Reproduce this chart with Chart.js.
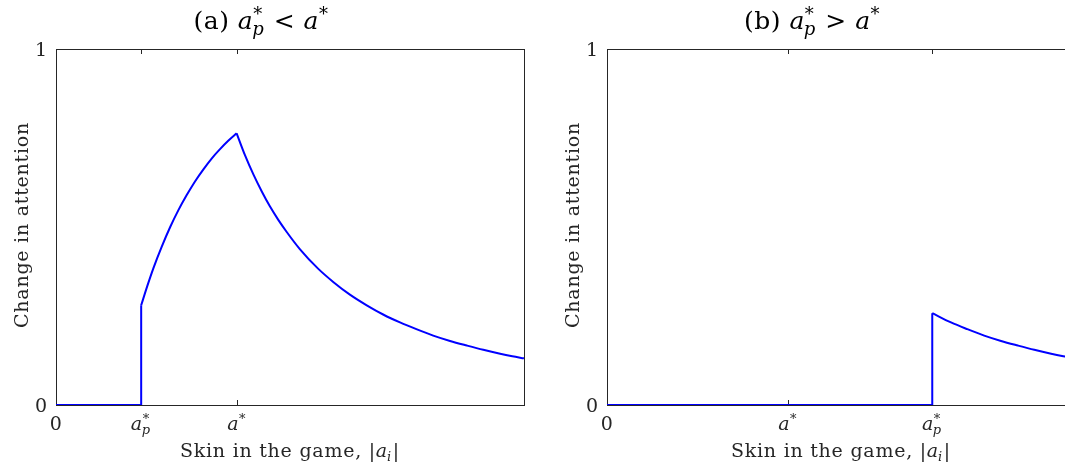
<!DOCTYPE html>
<html>
<head>
<meta charset="utf-8">
<script src="https://cdn.jsdelivr.net/npm/chart.js@4.4.0/dist/chart.umd.min.js"></script>
<style>
html, body { margin:0; padding:0; background:#fff; overflow:hidden; width:1065px; height:474px; }
.panel { position:absolute; top:0; width:540px; height:474px; }
</style>
</head>
<body>
<div class="panel" style="left:0"><canvas id="chartA" width="540" height="474"></canvas></div>
<div class="panel" style="left:551px"><canvas id="chartB" width="540" height="474"></canvas></div>
<script>
// x as a fraction of the skin-in-the-game range, y = change in attention
const aStar = 0.386;
const apStarA = 0.182;
const apStarB = 0.695;

// panel (a): a_p* < a*
const stepA_x  = [0, 0.182, 0.182];
const stepA_y  = [0, 0, 0.280];
const riseA_x  = [0.182, 0.195, 0.208, 0.226, 0.244, 0.261, 0.279, 0.297, 0.315, 0.333, 0.350, 0.368, 0.386];
const riseA_y  = [0.280, 0.334, 0.384, 0.445, 0.500, 0.546, 0.589, 0.628, 0.662, 0.693, 0.718, 0.742, 0.763];
const decayA_x = [0.386, 0.404, 0.422, 0.440, 0.457, 0.475, 0.493, 0.521, 0.560, 0.593, 0.628, 0.664, 0.700,
                  0.735, 0.770, 0.806, 0.842, 0.878, 0.913, 0.949, 0.975, 1.0];
const decayA_y = [0.763, 0.701, 0.647, 0.599, 0.558, 0.520, 0.486, 0.438, 0.383, 0.345, 0.310, 0.280, 0.2535,
                  0.232, 0.213, 0.195, 0.180, 0.167, 0.155, 0.144, 0.137, 0.131];

// panel (b): a_p* > a*
const stepB_x  = [0, 0.695, 0.695];
const stepB_y  = [0, 0, 0.258];
const decayB_x = [0.695, 0.735, 0.770, 0.806, 0.842, 0.878, 0.913, 0.949, 0.975, 1.0];
const decayB_y = [0.258, 0.232, 0.213, 0.195, 0.180, 0.167, 0.155, 0.144, 0.137, 0.131];

const yTicks = [0, 1];
const yTickLabels = ['0', '1'];
const xTicksA = [0, apStarA, aStar];
const xTickLabelsA = ['0', '$a_p^*$', '$a^*$'];
const xTicksB = [0, aStar, apStarB];
const xTickLabelsB = ['0', '$a^*$', '$a_p^*$'];

const xTitle = 'Skin in the game, |$a_i$|';
const yTitle = 'Change in attention';
const titleA = '(a) $a_p^*$ < $a^*$';
const titleB = '(b) $a_p^*$ > $a^*$';

const LABEL_FONT = '"DejaVu Serif", "Liberation Serif", serif';
const TITLE_FONT = '"DejaVu Serif", "Liberation Serif", serif';

// tiny tex-ish parser: $..$ = math (letters italic), _c / ^c scripts
function parseTex(str) {
    const out = [];
    let math = false;
    for (let i = 0; i < str.length; i++) {
        const c = str[i];
        if (c === '$') { math = !math; continue; }
        if (math && (c === '_' || c === '^')) {
            out[out.length - 1][c === '_' ? 'sub' : 'sup'] = str[++i];
            continue;
        }
        const it = math && /[a-z]/i.test(c);
        const last = out[out.length - 1];
        if (last && last.it === it && !last.sub && !last.sup) last.s += c;
        else out.push({s: c, it: it});
    }
    return out;
}

function drawTex(ctx, str, x, y, size, family, align, spacing) {
    const toks = parseTex(str);
    const small = Math.round(size * 0.7);
    const font = (it, sz) => (it ? 'italic ' : '') + sz + 'px ' + family;
    ctx.letterSpacing = (spacing || 0) + 'px';
    const widths = toks.map(t => {
        ctx.font = font(t.it, size);
        const w = ctx.measureText(t.s).width;
        let sw = 0;
        ['sub', 'sup'].forEach(k => {
            if (!t[k]) return;
            ctx.font = font(/[a-z]/i.test(t[k]), small);
            sw = Math.max(sw, ctx.measureText(t[k]).width);
        });
        return [w, sw];
    });
    const total = widths.reduce((s, w) => s + w[0] + w[1], 0);
    let cx = align === 'center' ? x - total / 2 : align === 'right' ? x - total : x;
    ctx.textBaseline = 'alphabetic';
    ctx.textAlign = 'left';
    toks.forEach((t, i) => {
        ctx.font = font(t.it, size);
        ctx.fillText(t.s, cx, y);
        cx += widths[i][0];
        if (t.sup) {
            ctx.font = font(/[a-z]/i.test(t.sup), small);
            ctx.fillText(t.sup, cx, y - size * 0.36);
        }
        if (t.sub) {
            ctx.font = font(/[a-z]/i.test(t.sub), small);
            ctx.fillText(t.sub, cx - 1, y + size * 0.22);
        }
        cx += widths[i][1];
    });
    ctx.letterSpacing = '0px';
}

const framePlugin = {
    id: 'frame',
    beforeDatasetsDraw(chart, args, opts) {
        const {ctx, chartArea: a, scales: {x}} = chart;
        ctx.save();
        ctx.strokeStyle = '#262626';
        ctx.lineWidth = 1;
        ctx.strokeRect(a.left + 0.5, a.top + 0.5, a.right - a.left, a.bottom - a.top);
        ctx.beginPath();
        opts.xTicks.forEach(v => {
            const px = Math.round(x.getPixelForValue(v)) + 0.5;
            ctx.moveTo(px, a.bottom); ctx.lineTo(px, a.bottom - 5);
            ctx.moveTo(px, a.top); ctx.lineTo(px, a.top + 5);
        });
        ctx.stroke();
        ctx.restore();
    },
    afterDraw(chart, args, opts) {
        const {ctx, chartArea: a, scales: {x, y}} = chart;
        ctx.save();
        ctx.fillStyle = '#262626';
        opts.xTicks.forEach((v, i) => {
            drawTex(ctx, opts.xLabels[i], x.getPixelForValue(v), a.bottom + 25, 19, LABEL_FONT, 'center', 0.5);
        });
        yTicks.forEach((v, i) => {
            drawTex(ctx, yTickLabels[i], a.left - 9, y.getPixelForValue(v) + 7, 19, LABEL_FONT, 'right', 0);
        });
        drawTex(ctx, xTitle, a.left + 234, 457, 19, LABEL_FONT, 'center', 0.75);
        ctx.save();
        ctx.translate(28, 225);
        ctx.rotate(-Math.PI / 2);
        drawTex(ctx, yTitle, 0, 0, 19, LABEL_FONT, 'center', 0.75);
        ctx.restore();
        ctx.fillStyle = '#000';
        drawTex(ctx, opts.title, a.left + 205, 29, 25, TITLE_FONT, 'center', 0.5);
        ctx.restore();
    }
};

function pts(xs, ys) { return xs.map((v, i) => ({x: v, y: ys[i]})); }

function lineSet(xs, ys, smooth) {
    return {
        data: pts(xs, ys),
        showLine: true,
        borderColor: '#0000ff',
        backgroundColor: '#0000ff',
        borderWidth: 2,
        pointRadius: 0,
        cubicInterpolationMode: smooth ? 'monotone' : 'default',
        tension: 0
    };
}

function makeChart(id, sets, xTicks, xLabels, title) {
    new Chart(document.getElementById(id).getContext('2d'), {
        type: 'scatter',
        data: {datasets: sets},
        options: {
            responsive: false,
            animation: false,
            devicePixelRatio: 1,
            layout: {padding: {left: 56, right: 16, top: 49, bottom: 69}},
            plugins: {
                legend: {display: false},
                tooltip: {enabled: false},
                frame: {xTicks: xTicks, xLabels: xLabels, title: title}
            },
            scales: {
                x: {type: 'linear', min: 0, max: 1, display: false},
                y: {type: 'linear', min: 0, max: 1, display: false}
            }
        },
        plugins: [framePlugin]
    });
}

makeChart('chartA', [
    lineSet(stepA_x, stepA_y, false),
    lineSet(riseA_x, riseA_y, true),
    lineSet(decayA_x, decayA_y, true)
], xTicksA, xTickLabelsA, titleA);

makeChart('chartB', [
    lineSet(stepB_x, stepB_y, false),
    lineSet(decayB_x, decayB_y, true)
], xTicksB, xTickLabelsB, titleB);
</script>
</body>
</html>
